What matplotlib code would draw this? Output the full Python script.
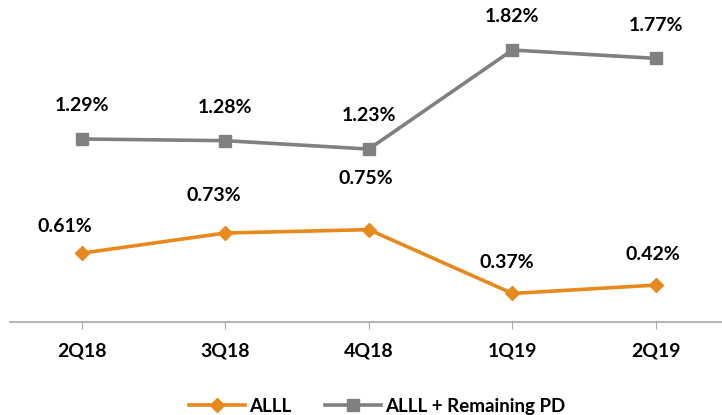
import matplotlib
matplotlib.use("Agg")
import matplotlib.pyplot as plt

quarters = ["2Q18", "3Q18", "4Q18", "1Q19", "2Q19"]
alll = [0.61, 0.73, 0.75, 0.37, 0.42]
alll_pd = [1.29, 1.28, 1.23, 1.82, 1.77]

orange = "#E8891C"
gray = "#808080"
plt.rcParams['font.family'] = ['Lato', 'DejaVu Sans']

fig = plt.figure(figsize=(7.22, 4.15), dpi=100)
ax = fig.add_axes([10/722, 93/415, 712/722, 319/415])
x = list(range(len(quarters)))
ax.plot(x, alll_pd, color=gray, lw=2.6, marker="s", ms=9, label="ALLL + Remaining PD", zorder=3)
ax.plot(x, alll, color=orange, lw=2.6, marker="D", ms=7, label="ALLL", zorder=3)

orange_off = [(-12, 19), (-8, 27), (-2, 37), (-4, 22), (-2, 22)]
gray_off = [(0, 24), (0, 24), (0, 24), (0, 24), (0, 24)]
for i in x:
    ax.annotate(f"{alll_pd[i]:.2f}%", (i, alll_pd[i]), xytext=gray_off[i], textcoords="offset points",
                ha="center", va="center", fontsize=14, fontweight="bold", color="black")
    ax.annotate(f"{alll[i]:.2f}%", (i, alll[i]), xytext=orange_off[i], textcoords="offset points",
                ha="center", va="center", fontsize=14, fontweight="bold", color="black")

ax.set_xlim(-0.5, 4.46)
ax.set_ylim(0.2, 2.1)
ax.set_yticks([])
ax.set_xticks(x)
ax.set_xticklabels(quarters, fontsize=14, fontweight="bold")
for s in ["top", "right", "left"]:
    ax.spines[s].set_visible(False)
ax.spines["bottom"].set_color("#A6A6A6")
ax.spines["bottom"].set_linewidth(1.2)
ax.tick_params(axis="x", length=5, color="#A6A6A6", pad=10)
ax.patch.set_alpha(0)

handles, labels = ax.get_legend_handles_labels()
fig.legend(handles[::-1], labels[::-1], loc="lower center", bbox_to_anchor=(0.522, -0.04), ncol=2,
           frameon=False, prop={"weight": "bold", "size": 13.5}, handlelength=3.0, columnspacing=1.8,
           handletextpad=0.2)
fig.savefig("out.png", dpi=100)
